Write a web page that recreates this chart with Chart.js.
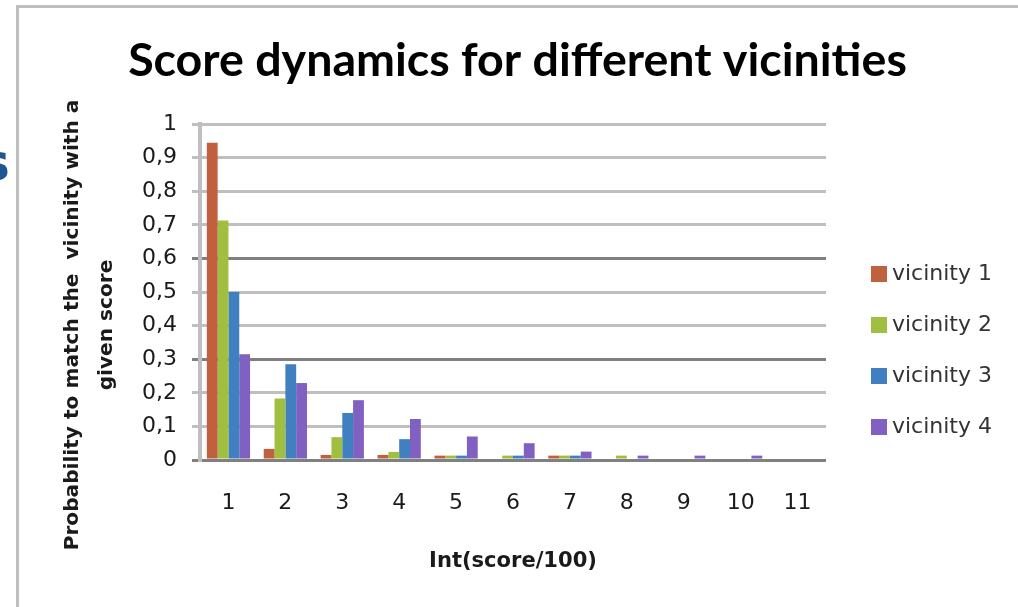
<!DOCTYPE html>
<html>
<head>
<meta charset="utf-8">
<script src="https://cdn.jsdelivr.net/npm/chart.js@4.4.1/dist/chart.umd.min.js"></script>
<style>
  html, body { margin: 0; padding: 0; background: #ffffff; }
  #wrap { position: relative; width: 1018px; height: 607px; overflow: hidden; background: #ffffff; }
  #frame { position: absolute; left: 16px; top: 5px; width: 1100px; height: 700px;
           border-top: 3px solid #bfbfbf; border-left: 3px solid #bfbfbf; }
  #frag { position: absolute; left: -21px; top: 136px; font: bold 52px/52px 'DejaVu Sans', sans-serif; color: #1f5590; }
  #c { position: absolute; left: 0; top: 0; }
</style>
</head>
<body>
<div id="wrap">
  <div id="frame"></div>
  <span id="frag">s</span>
  <canvas id="c" width="1018" height="607"></canvas>
</div>
<script>
// ---------------- data ----------------
const categories = ['1', '2', '3', '4', '5', '6', '7', '8', '9', '10', '11'];
const seriesLabels = ['vicinity 1', 'vicinity 2', 'vicinity 3', 'vicinity 4'];
const vicinity1 = [0.944, 0.033, 0.015, 0.015, 0.013, 0, 0.013, 0, 0, 0, 0];
const vicinity2 = [0.713, 0.183, 0.068, 0.024, 0.013, 0.013, 0.013, 0.013, 0, 0, 0];
const vicinity3 = [0.500, 0.285, 0.140, 0.062, 0.013, 0.013, 0.013, 0, 0, 0, 0];
const vicinity4 = [0.315, 0.229, 0.178, 0.122, 0.070, 0.050, 0.025, 0.013, 0.013, 0.013, 0];
const yTickLabels = ['0', '0,1', '0,2', '0,3', '0,4', '0,5', '0,6', '0,7', '0,8', '0,9', '1'];
const titleText = 'Score dynamics for different vicinities';
const xTitleText = 'Int(score/100)';
const yTitleLines = ['Probability to match the  vicinity with a', 'given score'];
const seriesColors = ['#C0603F', '#A0BE40', '#4080C0', '#8060C0'];

// ---------------- helpers ----------------
const DV = "'DejaVu Sans', sans-serif";
const LATO = "Lato, sans-serif";
function fitSize(text, weight, family, target) {
  const c = document.createElement('canvas').getContext('2d');
  c.font = weight + ' 100px ' + family;
  return 100 * target / c.measureText(text).width;
}
const titleSize = fitSize(titleText, 'bold', LATO, 779);
const yTitleSize = fitSize(yTitleLines[0], 'bold', DV, 451);
const xTitleSize = fitSize(xTitleText, 'bold', DV, 168);

const majorGrid = [0, 3, 6];
const textColor = '#1a1a1a';

const yTitlePlugin = {
  id: 'yTitle',
  afterDraw(chart) {
    const ctx = chart.ctx;
    ctx.save();
    ctx.font = 'bold ' + yTitleSize + 'px ' + DV;
    ctx.fillStyle = textColor;
    ctx.textAlign = 'center';
    ctx.textBaseline = 'middle';
    yTitleLines.forEach((line, i) => {
      ctx.save();
      ctx.translate(72.5 + i * 34.5, 325);
      ctx.rotate(-Math.PI / 2);
      ctx.fillText(line, 0, 0);
      ctx.restore();
    });
    ctx.restore();
  }
};

const boxPlace = {
  id: 'boxPlace',
  afterLayout(chart) {
    const lg = chart.legend;
    lg.left = 842; lg.right = 992; lg.top = 234; lg.bottom = 607;
    const tb = chart.titleBlock;
    tb.left = 17; tb.right = 1018;
  }
};

const datasets = [vicinity1, vicinity2, vicinity3, vicinity4].map((vals, i) => ({
  label: seriesLabels[i],
  data: vals,
  backgroundColor: seriesColors[i],
  borderWidth: 0,
  categoryPercentage: 0.76,
  barPercentage: 1.0
}));

const chart = new Chart(document.getElementById('c'), {
  type: 'bar',
  data: { labels: categories, datasets },
  plugins: [yTitlePlugin, boxPlace],
  options: {
    responsive: false,
    animation: false,
    events: [],
    layout: { padding: { left: 17, right: 29, top: 0, bottom: 0 } },
    plugins: {
      tooltip: { enabled: false },
      title: {
        display: true,
        text: titleText,
        color: '#000000',
        font: { family: LATO, size: titleSize, weight: 'bold', lineHeight: 1.2 },
        padding: { top: 61 - 0.6 * titleSize, bottom: 63 - 0.6 * titleSize }
      },
      legend: {
        display: true,
        position: 'right',
        align: 'start',
        labels: {
          color: '#333333',
          font: { family: DV, size: 22 },
          boxWidth: 16,
          boxHeight: 16,
          padding: 29,
          textAlign: 'right'
        }
      }
    },
    scales: {
      x: {
        grid: { display: false, drawTicks: false },
        border: { display: false },
        ticks: { color: textColor, font: { family: DV, size: 22 }, padding: 30, maxRotation: 0, autoSkip: false },
        title: {
          display: true,
          text: xTitleText,
          color: textColor,
          font: { family: DV, size: xTitleSize, weight: 'bold', lineHeight: 1.2 },
          padding: { top: 0, bottom: 33 }
        },
        afterFit(scale) { scale.height = 147; }
      },
      y: {
        min: 0,
        max: 1,
        grid: {
          color: (c) => majorGrid.includes(c.index) ? '#808080' : '#BFBFBF',
          lineWidth: 3,
          drawTicks: true,
          tickLength: 8
        },
        border: { display: true, color: '#BFBFBF', width: 4 },
        ticks: {
          stepSize: 0.1,
          color: textColor,
          font: { family: DV, size: 22 },
          padding: 15,
          callback: (v, i) => yTickLabels[i]
        },
        afterFit(scale) { scale.width = 183; }
      }
    }
  }
});

// keep the plot's right edge where the reference has it
const dx = chart.chartArea.right - 826;
if (Math.abs(dx) > 0.5) {
  chart.options.layout.padding.right += dx;
  chart.update('none');
}
</script>
</body>
</html>
